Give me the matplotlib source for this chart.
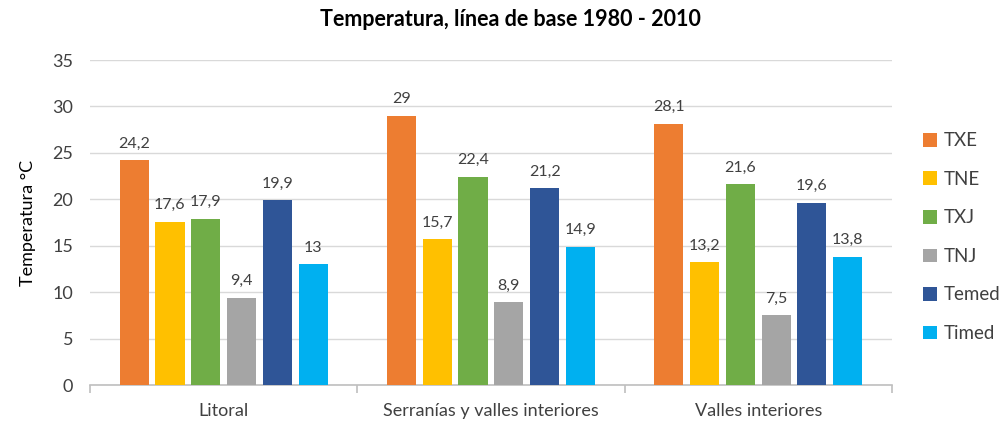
import numpy as np
import matplotlib.pyplot as plt

plt.rcParams['font.family'] = ['Lato', 'DejaVu Sans']

categories = ['Litoral', 'Serranías y valles interiores', 'Valles interiores']
series = ['TXE', 'TNE', 'TXJ', 'TNJ', 'Temed', 'Timed']
values = {
    'TXE': [24.2, 29, 28.1],
    'TNE': [17.6, 15.7, 13.2],
    'TXJ': [17.9, 22.4, 21.6],
    'TNJ': [9.4, 8.9, 7.5],
    'Temed': [19.9, 21.2, 19.6],
    'Timed': [13, 14.9, 13.8],
}
colors = ['#ED7D31', '#FFC000', '#70AD47', '#A5A5A5', '#2F5597', '#00B0F0']

fig = plt.figure(figsize=(10.06, 4.25), dpi=100)
ax = fig.add_axes([0.0895, 0.0941, 0.797, 0.7647])

x = np.arange(len(categories))
pitch = 0.134
width = 0.109
txt = '#404040'
for i, (name, col) in enumerate(zip(series, colors)):
    pos = x + (i - 2.5) * pitch
    bars = ax.bar(pos, values[name], width, color=col, label=name, zorder=3)
    for b, v in zip(bars, values[name]):
        lab = ('%g' % v).replace('.', ',')
        ax.annotate(lab, (b.get_x() + b.get_width() / 2, v), xytext=(0, 7),
                    textcoords='offset points', ha='center', va='bottom',
                    fontsize=11.5, color=txt)

ax.set_xlim(-0.5, 2.5)
ax.set_ylim(0, 35)
ax.set_yticks(range(0, 36, 5))
ax.yaxis.grid(True, color='#D9D9D9', linewidth=1, zorder=0)
for s in ['top', 'right', 'left']:
    ax.spines[s].set_visible(False)
ax.spines['bottom'].set_color('#BFBFBF')
ax.spines['bottom'].set_linewidth(1.2)
ax.tick_params(axis='y', length=0, labelsize=13, colors=txt, pad=12)
ax.set_xticks(x)
ax.set_xticklabels(categories)
ax.tick_params(axis='x', length=0, labelsize=13, colors=txt, pad=13)
ax.set_xticks([-0.5, 0.5, 1.5, 2.5], minor=True)
ax.tick_params(axis='x', which='minor', length=6, color='#BFBFBF', width=1.2)
ax.set_ylabel('Temperatura °C', fontsize=13, color='black', labelpad=12)

fig.text(0.507, 0.955, 'Temperatura, línea de base 1980 - 2010', ha='center',
         va='center', fontsize=15.5, fontweight='bold')

ax.legend(loc='center left', bbox_to_anchor=(1.018, 0.455), frameon=False,
          handlelength=0.75, handleheight=0.75, handletextpad=0.35,
          labelspacing=1.15, fontsize=13.5, labelcolor=txt)

fig.savefig('out.png', dpi=100)
